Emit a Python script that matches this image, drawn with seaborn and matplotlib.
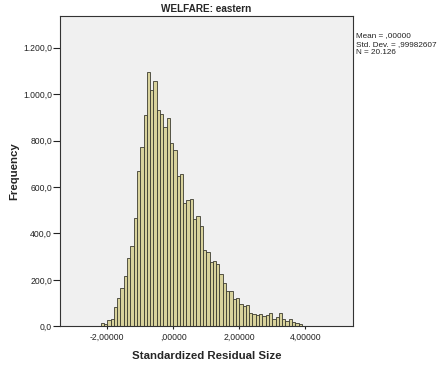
import numpy as np
import pandas as pd
import matplotlib
matplotlib.use("Agg")
import matplotlib.pyplot as plt
import seaborn as sns

# Histogram of standardized residuals: 0.1-wide bins starting at -2.3
bin_start = -2.3
bin_width = 0.1
counts = [
    3, 13, 8, 26, 31, 85, 123, 165, 216, 295,
    346, 467, 669, 772, 911, 1096, 1018, 1056, 930, 915,
    857, 899, 791, 759, 647, 657, 532, 543, 548, 462,
    477, 432, 327, 321, 275, 280, 268, 227, 188, 150,
    150, 118, 122, 95, 86, 90, 59, 54, 48, 54,
    43, 50, 56, 33, 42, 59, 33, 24, 30, 20,
    13, 12, 3,
]
x_ticks = [-2.0, 0.0, 2.0, 4.0]
x_tick_labels = ["-2,00000", ",00000", "2,00000", "4,00000"]
y_ticks = [0, 200, 400, 600, 800, 1000, 1200]
y_tick_labels = ["0,0", "200,0", "400,0", "600,0", "800,0", "1.000,0", "1.200,0"]
title = "WELFARE: eastern"
x_label = "Standardized Residual Size"
y_label = "Frequency"
stats_lines = ["Mean = ,00000", "Std. Dev. = ,99982607", "N = 20.126"]

n_bins = len(counts)
edges = [round(bin_start + bin_width * i, 6) for i in range(n_bins + 1)]
centers = [(a + b) / 2 for a, b in zip(edges[:-1], edges[1:])]
df = pd.DataFrame({"residual": centers, "count": counts})

sns.set_theme(style="white")
plt.rcParams["font.family"] = ["Liberation Sans", "DejaVu Sans"]

fig = plt.figure(figsize=(4.41, 3.65), dpi=100)
fig.patch.set_facecolor("white")
ax = fig.add_axes([0.137, 0.106, 0.663, 0.851])
ax.set_facecolor("#F0F0F0")

sns.histplot(data=df, x="residual", weights="count", bins=edges,
             color="#D8D29C", edgecolor="#3C3C30", linewidth=0.6,
             alpha=1.0, ax=ax)

ax.set_xlim(-3.42, 5.44)
ax.set_ylim(0, 1338)
ax.set_xticks(x_ticks)
ax.set_xticklabels(x_tick_labels)
ax.set_yticks(y_ticks)
ax.set_yticklabels(y_tick_labels)
ax.tick_params(axis="y", direction="out", length=5, width=0.8, pad=1,
               labelsize=6.2, colors="#222222", left=True)
ax.tick_params(axis="x", direction="out", length=2.5, width=0.8, pad=2,
               labelsize=6.2, colors="#222222", bottom=True)

for side in ["left", "right", "top", "bottom"]:
    ax.spines[side].set_visible(True)
    ax.spines[side].set_color("#333333")
    ax.spines[side].set_linewidth(0.8)

ax.set_xlabel(x_label, fontsize=8.2, fontweight="bold", labelpad=7)
ax.set_ylabel(y_label, fontsize=8.2, fontweight="bold", labelpad=3)
ax.set_title(title, fontsize=7.2, fontweight="bold", pad=3)

fig.text(0.808, 0.912, "\n".join(stats_lines), fontsize=5.9,
         color="#222222", va="top", ha="left", linespacing=1.3)

fig.savefig("out.png", dpi=100)
